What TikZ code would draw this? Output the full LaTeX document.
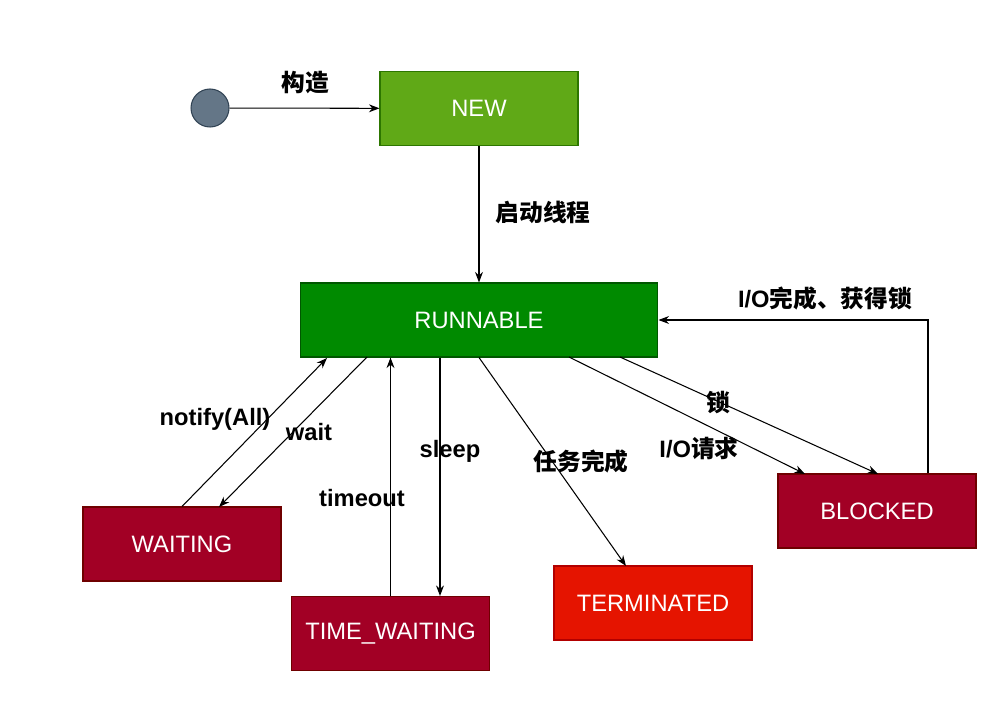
\documentclass[tikz,border=0pt]{standalone}
\usepackage{fontspec}
\setmainfont{Liberation Sans}
\newfontfamily\cjk{Noto Sans CJK SC}
\usepackage{tikz}
\usetikzlibrary{arrows.meta,positioning}

\definecolor{startfill}{HTML}{647687}
\definecolor{startline}{HTML}{314354}
\definecolor{newfill}{HTML}{60A917}
\definecolor{newline}{HTML}{2D7600}
\definecolor{runfill}{HTML}{008A00}
\definecolor{runline}{HTML}{005700}
\definecolor{waitfill}{HTML}{A20025}
\definecolor{waitline}{HTML}{6F0000}
\definecolor{termfill}{HTML}{E51400}
\definecolor{termline}{HTML}{B20000}

\begin{document}
\begin{tikzpicture}[
    x=0.02cm, y=-0.02cm,
    >={Stealth[length=6pt,width=4.5pt]},
    every node/.style={font=\fontsize{13.5}{16}\selectfont},
    state/.style={draw, line width=0.6pt, text=white, minimum width=3.96cm, minimum height=1.48cm, inner sep=0pt},
    lbl/.style={font=\fontsize{13.5}{16}\selectfont\bfseries, inner sep=1pt},
    edge/.style={->, line width=0.6pt}
]
\useasboundingbox (0,0) rectangle (988,723);

\node[circle, draw=startline, fill=startfill, line width=0.6pt, minimum size=0.76cm, inner sep=0pt] (init) at (210,108) {};
\node[state, fill=newfill, draw=newline] (new) at (479,108.5) {NEW};
\node[state, fill=runfill, draw=runline, minimum width=7.16cm] (run) at (479,320) {RUNNABLE};
\node[state, fill=waitfill, draw=waitline] (waiting) at (182,544) {WAITING};
\node[state, fill=waitfill, draw=waitline] (timed) at (390.5,633.5) {TIME\_WAITING};
\node[state, fill=termfill, draw=termline] (term) at (653,603) {TERMINATED};
\node[state, fill=waitfill, draw=waitline] (blocked) at (877,511) {BLOCKED};

\draw[edge] (init) -- (new);
\draw[edge] (new) -- (run);
\draw[edge] (blocked.north -| 928,0) |- (run.east);
\draw[edge] (waiting.north) -- (327,358);
\draw[edge] (367,357) -- (219,507);
\draw[edge] (timed.north) -- (run.south -| timed.north);
\draw[edge] (run.south -| 440,0) -- (timed.north -| 440,0);
\draw[edge] (run.south) -- (626,566);
\draw[edge] (569,357) -- (805,474);
\draw[edge] (620,357) -- (878,474);

\node[lbl] (l1) at (305,83) {\cjk 构造};
\node[lbl] (l2) at (543,212) {\cjk 启动线程};
\node[lbl] (l3) at (825,298) {I/O{\cjk 完成、获得锁}};
\node[lbl] (l4) at (215,419) {notify(All)};
\node[lbl] (l5) at (309,432) {wait};
\node[lbl] (l6) at (362,498) {timeout};
\node[lbl] (l7) at (450,451) {sleep};
\node[lbl] (l8) at (581,461) {\cjk 任务完成};
\node[lbl] (l9) at (699,448) {I/O{\cjk 请求}};
\node[lbl] (l10) at (718,403) {\cjk 锁};

\end{tikzpicture}
\end{document}
